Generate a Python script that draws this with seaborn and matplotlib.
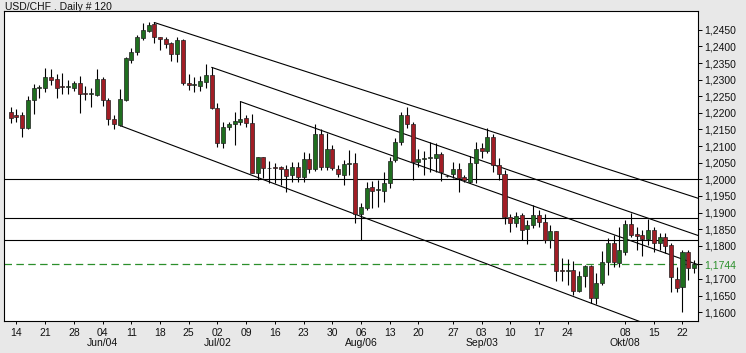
import matplotlib
matplotlib.use("Agg")
import matplotlib.pyplot as plt
from matplotlib.transforms import blended_transform_factory
import numpy as np
import pandas as pd
import seaborn as sns

# ---------------- data (USD/CHF daily, 120 bars) ----------------
opens = [1.2202, 1.2194, 1.2194, 1.2155, 1.2238, 1.2274, 1.2274, 1.2308, 1.2301, 1.2281,
         1.2279, 1.2276, 1.2290, 1.2260, 1.2257, 1.2254, 1.2302, 1.2239, 1.2182, 1.2163,
         1.2239, 1.2359, 1.2382, 1.2425, 1.2446, 1.2467, 1.2427, 1.2422, 1.2409, 1.2376,
         1.2419, 1.2289, 1.2284, 1.2282, 1.2294, 1.2314, 1.2214, 1.2108, 1.2158, 1.2166,
         1.2172, 1.2184, 1.2169, 1.2020, 1.2066, 1.2035, 1.2036, 1.2037, 1.2031, 1.2013,
         1.2036, 1.2006, 1.2060, 1.2030, 1.2136, 1.2038, 1.2090, 1.2031, 1.2013, 1.2046,
         1.2048, 1.1895, 1.1913, 1.1976, 1.1968, 1.1966, 1.1988, 1.2058, 1.2111, 1.2194,
         1.2166, 1.2053, 1.2061, 1.2063, 1.2065, 1.2076, 1.2010, 1.2016, 1.2031, 1.2006,
         1.1993, 1.2048, 1.2093, 1.2085, 1.2128, 1.2043, 1.2015, 1.1887, 1.1868, 1.1893,
         1.1849, 1.1862, 1.1893, 1.1871, 1.1817, 1.1844, 1.1727, 1.1725, 1.1727, 1.1665,
         1.1708, 1.1738, 1.1642, 1.1687, 1.1750, 1.1809, 1.1747, 1.1782, 1.1865, 1.1835,
         1.1832, 1.1820, 1.1847, 1.1809, 1.1825, 1.1802, 1.1700, 1.1677, 1.1782, 1.1732]
highs = [1.2217, 1.2211, 1.2203, 1.2252, 1.2286, 1.2284, 1.2334, 1.2332, 1.2318, 1.2319,
         1.2298, 1.2296, 1.2311, 1.2282, 1.2276, 1.2332, 1.2309, 1.2246, 1.2194, 1.2271,
         1.2369, 1.2394, 1.2434, 1.2471, 1.2474, 1.2474, 1.2429, 1.2429, 1.2414, 1.2429,
         1.2422, 1.2316, 1.2309, 1.2311, 1.2346, 1.2337, 1.2229, 1.2172, 1.2173, 1.2202,
         1.2235, 1.2194, 1.2197, 1.2068, 1.2068, 1.2056, 1.2050, 1.2040, 1.2043, 1.2053,
         1.2053, 1.2081, 1.2078, 1.2166, 1.2150, 1.2138, 1.2103, 1.2043, 1.2058, 1.2088,
         1.2078, 1.1928, 1.1993, 1.1995, 1.1998, 1.2021, 1.2068, 1.2123, 1.2203, 1.2219,
         1.2173, 1.2090, 1.2085, 1.2113, 1.2108, 1.2081, 1.2012, 1.2053, 1.2048, 1.2013,
         1.2070, 1.2113, 1.2108, 1.2153, 1.2135, 1.2065, 1.2028, 1.1895, 1.1902, 1.1898,
         1.1877, 1.1923, 1.1908, 1.1895, 1.1862, 1.1844, 1.1762, 1.1761, 1.1753, 1.1724,
         1.1743, 1.1743, 1.1718, 1.1783, 1.1822, 1.1832, 1.1857, 1.1877, 1.1898, 1.1857,
         1.1847, 1.1880, 1.1857, 1.1839, 1.1837, 1.1807, 1.1737, 1.1787, 1.1787, 1.1757]
lows = [1.2169, 1.2172, 1.2128, 1.2150, 1.2197, 1.2246, 1.2264, 1.2284, 1.2244, 1.2257,
        1.2257, 1.2266, 1.2200, 1.2239, 1.2219, 1.2250, 1.2222, 1.2163, 1.2150, 1.2160,
        1.2235, 1.2349, 1.2374, 1.2418, 1.2444, 1.2411, 1.2389, 1.2394, 1.2357, 1.2354,
        1.2284, 1.2269, 1.2262, 1.2266, 1.2276, 1.2211, 1.2098, 1.2093, 1.2148, 1.2104,
        1.2163, 1.2158, 1.2018, 1.1998, 1.2003, 1.1988, 1.1988, 1.1983, 1.1963, 1.1993,
        1.1993, 1.1993, 1.2018, 1.2026, 1.2028, 1.2028, 1.2028, 1.2008, 1.1983, 1.2013,
        1.1869, 1.1816, 1.1908, 1.1915, 1.1918, 1.1933, 1.1973, 1.2053, 1.2103, 1.2154,
        1.1998, 1.2038, 1.2013, 1.2023, 1.2023, 1.1996, 1.2008, 1.2005, 1.1963, 1.1991,
        1.1988, 1.1988, 1.2063, 1.2078, 1.2023, 1.1998, 1.1865, 1.1842, 1.1857, 1.1817,
        1.1804, 1.1853, 1.1857, 1.1807, 1.1792, 1.1693, 1.1693, 1.1682, 1.1653, 1.1662,
        1.1677, 1.1627, 1.1624, 1.1682, 1.1712, 1.1737, 1.1737, 1.1772, 1.1827, 1.1787,
        1.1769, 1.1802, 1.1782, 1.1787, 1.1777, 1.1662, 1.1660, 1.1601, 1.1698, 1.1718]
closes = [1.2185, 1.2187, 1.2155, 1.2238, 1.2274, 1.2278, 1.2307, 1.2300, 1.2276, 1.2279,
          1.2281, 1.2290, 1.2256, 1.2257, 1.2260, 1.2302, 1.2238, 1.2181, 1.2166, 1.2241,
          1.2364, 1.2382, 1.2427, 1.2448, 1.2464, 1.2427, 1.2421, 1.2408, 1.2376, 1.2419,
          1.2289, 1.2285, 1.2287, 1.2296, 1.2314, 1.2214, 1.2108, 1.2158, 1.2166, 1.2175,
          1.2182, 1.2169, 1.2020, 1.2066, 1.2033, 1.2033, 1.2033, 1.2030, 1.2010, 1.2036,
          1.2008, 1.2060, 1.2030, 1.2136, 1.2038, 1.2090, 1.2033, 1.2016, 1.2046, 1.2050,
          1.1895, 1.1918, 1.1975, 1.1966, 1.1971, 1.1988, 1.2055, 1.2113, 1.2194, 1.2166,
          1.2053, 1.2060, 1.2065, 1.2067, 1.2076, 1.2021, 1.2010, 1.2031, 1.2005, 1.1998,
          1.2048, 1.2091, 1.2085, 1.2128, 1.2043, 1.2015, 1.1887, 1.1868, 1.1890, 1.1847,
          1.1862, 1.1893, 1.1871, 1.1817, 1.1844, 1.1725, 1.1725, 1.1727, 1.1665, 1.1710,
          1.1738, 1.1642, 1.1687, 1.1752, 1.1809, 1.1750, 1.1786, 1.1865, 1.1832, 1.1830,
          1.1820, 1.1847, 1.1809, 1.1827, 1.1800, 1.1707, 1.1672, 1.1782, 1.1732, 1.1744]

day_tick_pos = [1, 6, 11, 16, 21, 26, 31, 36, 41, 46, 51, 56, 61, 66, 71, 77, 82, 87,
                92, 97, 107, 112, 117]
day_tick_labels = ['14', '21', '28', '04', '11', '18', '25', '02', '09', '16', '23', '30',
                   '06', '13', '20', '27', '03', '10', '17', '24', '08', '15', '22']
month_pos = [16, 36, 61, 82, 107]
month_labels = ['Jun/04', 'Jul/02', 'Aug/06', 'Sep/03', 'Okt/08']

price_ticks = [1.2450, 1.2400, 1.2350, 1.2300, 1.2250, 1.2200, 1.2150, 1.2100, 1.2050,
               1.2000, 1.1950, 1.1900, 1.1850, 1.1800, 1.1700, 1.1650, 1.1600]
last_price = 1.1744
level_lines = [1.2000, 1.18826, 1.18164]

trend_line_id = ['a', 'a', 'b', 'b', 'c', 'c', 'd', 'd']
trend_line_bar = [25, 119.7, 35, 119.7, 40, 119.7, 19, 112]
trend_line_price = [1.2472, 1.1943, 1.2337, 1.1831, 1.2234, 1.1743, 1.2162, 1.1556]

title = 'USD/CHF . Daily # 120'

# ---------------- styling ----------------
sns.set_theme(style='white')
plt.rcParams['font.family'] = ['Liberation Sans', 'DejaVu Sans']

W, H = 746, 353
fig = plt.figure(figsize=(W / 100, H / 100), dpi=100)
fig.patch.set_facecolor('#e8e8e8')
ax = fig.add_axes([4 / W, 1 - 321 / H, 694 / W, 310 / H])
ax.set_facecolor('white')

df = pd.DataFrame({'o': opens, 'h': highs, 'l': lows, 'c': closes})
df['x'] = np.arange(len(df))
up = df['c'] >= df['o']
body_col = np.where(up, '#1f6e1f', '#a11d25')
body_bot = np.minimum(df['o'], df['c'])
body_h = np.maximum((df['c'] - df['o']).abs(), 0.00006)

# horizontal levels
for lv in level_lines:
    ax.axhline(lv, color='black', lw=0.8, zorder=1)
ax.axhline(last_price, color='#2b8f2b', lw=0.9, ls=(0, (6, 3.5)), zorder=1)

# trend lines via seaborn
tl = pd.DataFrame({'id': trend_line_id, 'x': trend_line_bar, 'y': trend_line_price})
sns.lineplot(data=tl, x='x', y='y', units='id', estimator=None, color='black',
             lw=0.8, ax=ax, zorder=2, sort=False)

# candles
ax.vlines(df['x'], df['l'], df['h'], color='black', lw=0.8, zorder=3)
ax.bar(df['x'], body_h, bottom=body_bot, width=0.7, color=body_col,
       edgecolor='#202020', linewidth=0.5, zorder=4)

ax.set_xlim(-1.17, 119.7)
ax.set_ylim(1.15735, 1.25066)
ax.set_xlabel('')
ax.set_ylabel('')

for s in ax.spines.values():
    s.set_visible(True)
    s.set_color('black')
    s.set_linewidth(0.8)

# x ticks
ax.set_xticks(day_tick_pos)
ax.set_xticklabels(day_tick_labels)
ax.tick_params(axis='x', direction='out', length=2.5, width=0.7, color='black',
               labelsize=7.5, pad=2.2, labelcolor='#111111', bottom=True)

# y ticks on right
yt = price_ticks + [last_price]
ax.yaxis.tick_right()
ax.set_yticks(yt)
ax.set_yticklabels([f'{v:.4f}'.replace('.', ',') for v in yt])
ax.tick_params(axis='y', direction='out', length=3, width=0.7, color='black',
               labelsize=7.5, pad=1.5, labelcolor='#111111', right=True, left=False)
for lab in ax.get_yticklabels():
    if lab.get_text() == f'{last_price:.4f}'.replace('.', ','):
        lab.set_color('#2b8f2b')

trans = blended_transform_factory(ax.transData, ax.transAxes)
for p, m in zip(month_pos, month_labels):
    ax.text(p, -0.072, m, transform=trans, ha='center', va='center',
            fontsize=7.5, color='#111111')

fig.text(5 / W, 1 - 6.7 / H, title, ha='left', va='center', fontsize=7.5,
         color='#111111')

fig.savefig('out.png', dpi=100, facecolor=fig.get_facecolor())
